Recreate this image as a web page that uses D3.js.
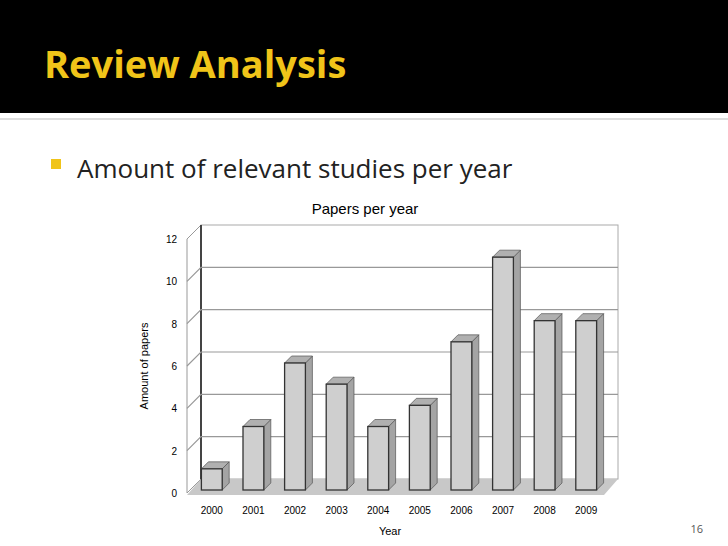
<!DOCTYPE html>
<html><head><meta charset="utf-8">
<script src="https://cdn.jsdelivr.net/npm/d3@7"></script>
<style>body{margin:0;background:#fff}svg{display:block}</style>
</head><body>
<script>
const years = ["2000","2001","2002","2003","2004","2005","2006","2007","2008","2009"];
const papers = [1,3,6,5,3,4,7,11,8,8];
const yTicks = [0,2,4,6,8,10,12];

const svg = d3.select("body").append("svg").attr("width",728).attr("height",546);

// slide header
svg.append("rect").attr("width",728).attr("height",113).attr("fill","#000");
svg.append("text").attr("x",44).attr("y",78).text("Review Analysis")
  .attr("font-family","Open Sans, sans-serif").attr("font-weight","bold")
  .attr("font-size",38).attr("fill","#f0c419");
svg.append("line").attr("x1",0).attr("x2",728).attr("y1",119).attr("y2",119).attr("stroke","#bbb");
svg.append("rect").attr("x",51).attr("y",159).attr("width",10).attr("height",10).attr("fill","#f0c419");
svg.append("text").attr("x",77).attr("y",178).text("Amount of relevant studies per year")
  .attr("font-family","Open Sans, sans-serif").attr("font-size",26).attr("fill","#222");
svg.append("text").attr("x",703).attr("y",533).attr("text-anchor","end").text("16")
  .attr("font-family","Open Sans, sans-serif").attr("font-size",11).attr("fill","#555");

// chart
const dx = 14, dy = -14;   // wall depth offset
const y = d3.scaleLinear().domain([0,12]).range([493,239]);
const x = d3.scaleBand().domain(years).range([191,607]).paddingInner(0.5).paddingOuter(0.25);
const g = svg.append("g").attr("font-family","Liberation Sans, Arial, sans-serif");

g.append("text").attr("x",365).attr("y",214).attr("text-anchor","middle").attr("font-size",15).text("Papers per year");

// back wall
g.append("rect").attr("x",187+dx).attr("y",y(12)+dy).attr("width",604-187).attr("height",y(0)-y(12))
  .attr("fill","#fff").attr("stroke","#aaa");
// side wall
g.append("path").attr("d",`M187,${y(0)}L187,${y(12)}L${187+dx},${y(12)+dy}L${187+dx},${y(0)+dy}Z`)
  .attr("fill","#fff").attr("stroke","#999");
g.append("line").attr("x1",187+dx).attr("x2",187+dx).attr("y1",y(12)+dy).attr("y2",y(0)+dy)
  .attr("stroke","#444").attr("stroke-width",2);
// floor
g.append("path").attr("d",`M187,${y(0)+2}L${187+dx},${y(0)+dy}L${604+dx},${y(0)+dy}L604,${y(0)+2}Z`)
  .attr("fill","#c8c8c8");
// gridlines
g.selectAll(".grid").data(yTicks.slice(1,-1)).join("path")
  .attr("d",d=>`M187,${y(d)}L${187+dx},${y(d)+dy}L${604+dx},${y(d)+dy}`)
  .attr("fill","none").attr("stroke","#999").attr("stroke-width",1.2);
// y ticks
g.selectAll(".yt").data(yTicks).join("text")
  .attr("x",177).attr("y",d=>y(d)+4).attr("text-anchor","end").attr("font-size",10).text(d=>d);
g.append("text").attr("transform","translate(148,366) rotate(-90)").attr("text-anchor","middle")
  .attr("font-size",11).text("Amount of papers");

// bars
const bd = 7, base = y(0)-3;
const hs = d3.scaleLinear().domain([0,12]).range([0,y(0)-y(12)]);
const bars = g.selectAll(".bar").data(papers).join("g");
bars.append("path").attr("d",(d,i)=>{const x1=x(years[i])+x.bandwidth(),t=base-hs(d);
  return `M${x1},${base}L${x1},${t}L${x1+bd},${t-bd}L${x1+bd},${base-bd}Z`;})
  .attr("fill","#a4a4a4").attr("stroke","#555").attr("stroke-width",0.7);
bars.append("path").attr("d",(d,i)=>{const x0=x(years[i]),x1=x0+x.bandwidth(),t=base-hs(d);
  return `M${x0},${t}L${x0+bd},${t-bd}L${x1+bd},${t-bd}L${x1},${t}Z`;})
  .attr("fill","#b0b0b0").attr("stroke","#555").attr("stroke-width",0.7);
bars.append("rect").attr("x",(d,i)=>x(years[i])).attr("y",d=>base-hs(d))
  .attr("width",x.bandwidth()).attr("height",d=>hs(d))
  .attr("fill","#cfcfcf").attr("stroke","#333").attr("stroke-width",1.3);

g.selectAll(".xt").data(years).join("text")
  .attr("x",d=>x(d)+x.bandwidth()/2).attr("y",514).attr("text-anchor","middle").attr("font-size",10).text(d=>d);
g.append("text").attr("x",390).attr("y",535).attr("text-anchor","middle").attr("font-size",11).text("Year");
</script>
</body></html>
